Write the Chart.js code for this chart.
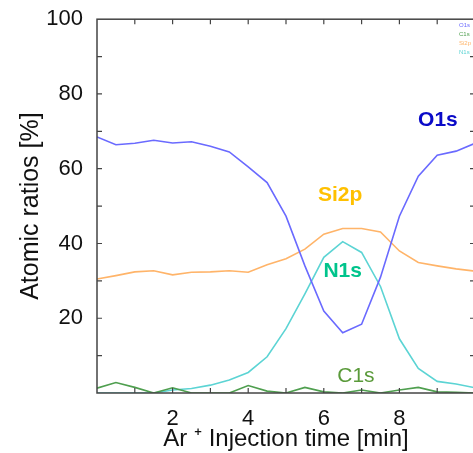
<!DOCTYPE html>
<html>
<head>
<meta charset="utf-8">
<script src="https://cdn.jsdelivr.net/npm/chart.js@4.4.0/dist/chart.umd.min.js"></script>
<style>
  html, body { margin: 0; padding: 0; background: #fff; overflow: hidden; }
  #wrap { width: 480px; height: 453px; }
</style>
</head>
<body>
<div id="wrap"><canvas id="myChart" width="480" height="453"></canvas></div>
<script>
// Ar+ injection time [min], one sample every 0.5 min
var times = [0, 0.5, 1, 1.5, 2, 2.5, 3, 3.5, 4, 4.5, 5, 5.5, 6, 6.5, 7, 7.5, 8, 8.5, 9, 9.5, 10];

// atomic ratios [%]
var o1s  = [68.5, 66.4, 66.8, 67.6, 66.9, 67.2, 66.0, 64.5, 60.5, 56.3, 47.3, 34.0, 21.9, 16.1, 18.4, 31.0, 47.3, 58.0, 63.6, 64.7, 66.8];
var si2p = [30.5, 31.4, 32.4, 32.7, 31.6, 32.3, 32.4, 32.7, 32.3, 34.3, 35.9, 38.5, 42.5, 44.0, 44.0, 43.1, 38.0, 34.9, 34.0, 33.2, 32.6];
var n1s  = [0, 0, 0, 0, 0.8, 1.2, 2.1, 3.5, 5.5, 9.7, 17.2, 26.5, 36.3, 40.5, 37.6, 28.5, 14.5, 6.6, 3.1, 2.4, 1.4];
var c1s  = [1.3, 2.8, 1.5, 0, 1.4, 0, 0, 0, 2.0, 0.5, 0, 1.5, 0.3, 0, 0.8, 0, 0.8, 1.5, 0.3, 0.2, 0];

var seriesNames = ['O1s', 'C1s', 'Si2p', 'N1s'];
var xTickLabels = [2, 4, 6, 8];
var yTickLabels = [20, 40, 60, 80, 100];

function pts(ys) {
  return times.map(function (t, i) { return { x: t, y: ys[i] }; });
}

// series labels written inside the plot, placed in data coordinates
var inPlotLabels = [
  { text: 'O1s',  x: 9.02, y: 73.0, color: '#0a0ac8', bold: true },
  { text: 'Si2p', x: 6.43, y: 53.0, color: '#ffc000', bold: true },
  { text: 'N1s',  x: 6.5,  y: 32.6, color: '#00c48c', bold: true },
  { text: 'C1s',  x: 6.85, y: 4.5,  color: '#5a9a3a', bold: false }
];

var frame = {
  id: 'frame',
  afterDraw: function (chart) {
    var c = chart.ctx, a = chart.chartArea;
    var xs = chart.scales.x, ys = chart.scales.y;
    c.save();
    c.strokeStyle = '#444';
    c.lineWidth = 1.5;
    c.strokeRect(a.left, a.top, a.right - a.left, a.bottom - a.top);
    c.lineWidth = 1.2;
    c.beginPath();
    for (var t = 1; t < 10; t++) {
      var px = xs.getPixelForValue(t);
      c.moveTo(px, a.bottom); c.lineTo(px, a.bottom - 5);
      c.moveTo(px, a.top); c.lineTo(px, a.top + 5);
    }
    for (var v = 10; v < 100; v += 10) {
      var py = ys.getPixelForValue(v);
      c.moveTo(a.left, py); c.lineTo(a.left + 5, py);
      c.moveTo(a.right, py); c.lineTo(a.right - 5, py);
    }
    c.stroke();

    // labels on the curves
    c.textAlign = 'center';
    c.textBaseline = 'middle';
    inPlotLabels.forEach(function (l) {
      c.font = (l.bold ? 'bold ' : '') + '21px "Liberation Sans", Arial, sans-serif';
      c.fillStyle = l.color;
      c.fillText(l.text, xs.getPixelForValue(l.x), ys.getPixelForValue(l.y));
    });

    // tiny legend top right
    c.textAlign = 'left';
    c.font = '6px "Liberation Sans", Arial, sans-serif';
    chart.data.datasets.forEach(function (d, i) {
      c.fillStyle = d.borderColor;
      c.fillText(d.label, 459, 25 + i * 9.2);
    });
    c.restore();
  }
};

var ctx = document.getElementById('myChart').getContext('2d');
var myChart = new Chart(ctx, {
  type: 'line',
  data: {
    datasets: [
      { label: seriesNames[0], data: pts(o1s),  borderColor: '#6a6aff', borderWidth: 1.6, pointRadius: 0, tension: 0 },
      { label: seriesNames[1], data: pts(c1s),  borderColor: '#4f9f4f', borderWidth: 1.6, pointRadius: 0, tension: 0 },
      { label: seriesNames[2], data: pts(si2p), borderColor: '#ffb469', borderWidth: 1.6, pointRadius: 0, tension: 0 },
      { label: seriesNames[3], data: pts(n1s),  borderColor: '#5cd4d4', borderWidth: 1.6, pointRadius: 0, tension: 0 }
    ]
  },
  options: {
    responsive: false,
    animation: false,
    layout: { padding: { top: 5, right: 5, left: 0, bottom: 0 } },
    plugins: { legend: { display: false }, tooltip: { enabled: false } },
    scales: {
      x: {
        type: 'linear', min: 0, max: 10,
        afterFit: function (s) { s.height = 60; },
        grid: { display: false },
        border: { display: false },
        ticks: {
          stepSize: 2, padding: 5, color: '#111',
          font: { family: '"Liberation Sans", Arial, sans-serif', size: 22 },
          callback: function (v) { return xTickLabels.indexOf(v) >= 0 ? String(v) : ''; }
        },
        title: {
          display: true, text: 'Ar \u207A Injection time [min]', color: '#111',
          font: { family: '"Liberation Sans", Arial, sans-serif', size: 24, lineHeight: 1.1 },
          padding: { top: 0, bottom: 0 }
        }
      },
      y: {
        min: 0, max: 100,
        afterFit: function (s) { s.width = 97; },
        grid: { display: false },
        border: { display: false },
        ticks: {
          stepSize: 20, padding: 6, color: '#111',
          font: { family: '"Liberation Sans", Arial, sans-serif', size: 22 },
          callback: function (v) { return yTickLabels.indexOf(v) >= 0 ? String(v) : ''; }
        },
        title: {
          display: true, text: 'Atomic ratios [%]', color: '#111',
          font: { family: '"Liberation Sans", Arial, sans-serif', size: 25 },
          padding: { top: 16, bottom: 0 }
        }
      }
    }
  },
  plugins: [frame]
});
</script>
</body>
</html>
